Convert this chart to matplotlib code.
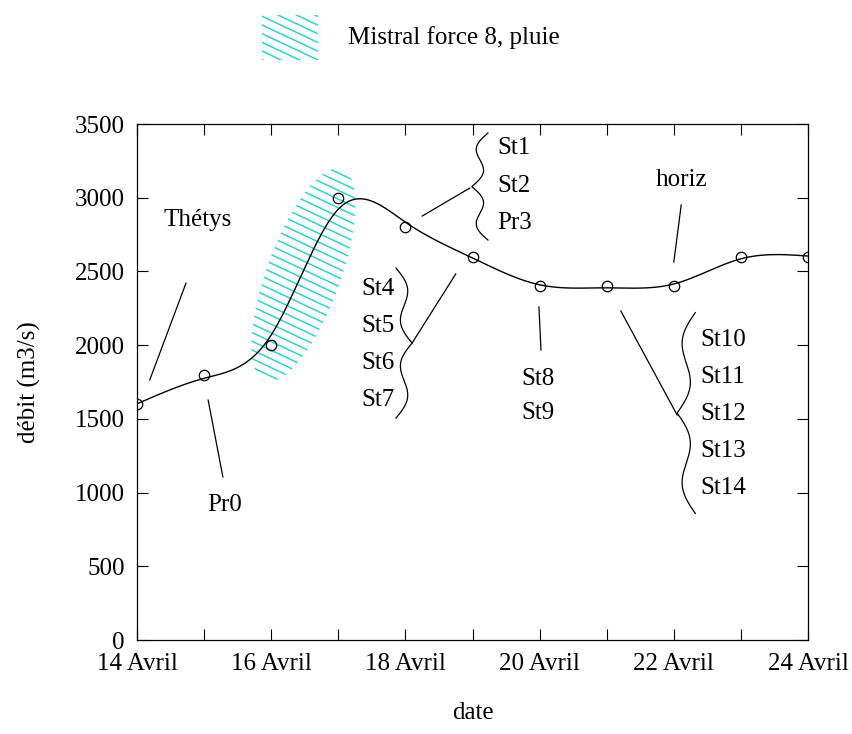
import numpy as np
import matplotlib.pyplot as plt
from matplotlib.patches import Ellipse, Rectangle
from matplotlib.lines import Line2D
from matplotlib.transforms import ScaledTranslation

plt.rcParams['font.family'] = ['Liberation Serif', 'DejaVu Serif']
plt.rcParams['font.size'] = 18

days = [14, 15, 16, 17, 18, 19, 20, 21, 22, 23, 24]
debit = [1600, 1800, 2000, 3000, 2800, 2600, 2400, 2400, 2400, 2600, 2600]
xtick_days = [14, 16, 18, 20, 22, 24]
xtick_labels = ['14 Avril', '16 Avril', '18 Avril', '20 Avril', '22 Avril', '24 Avril']
yticks = [0, 500, 1000, 1500, 2000, 2500, 3000, 3500]
hatch_color = '#33d0d0'


def smooth_curve(x, y, lam):
    # penalised least squares on a fine grid (smoothing-spline look)
    x = np.asarray(x, float)
    y = np.asarray(y, float)
    xs = np.linspace(x[0], x[-1], 1001)
    h = xs[1] - xs[0]
    n = len(xs)
    idx = np.rint((x - x[0]) / h).astype(int)
    A = np.zeros((n, n))
    A[idx, idx] = 1
    D = np.diff(np.eye(n), 2, axis=0) / h**2
    b = np.zeros(n)
    b[idx] = y
    f = np.linalg.solve(A + lam * h * D.T @ D, b)
    return xs, f


def brace(ax, x_end, x_tip, y_top, y_bot):
    s = np.linspace(0, 1, 120)
    g = s + 0.45 * np.sin(2 * np.pi * s)
    y_mid = (y_top + y_bot) / 2
    xu = x_end + (x_tip - x_end) * g
    yu = y_top + (y_mid - y_top) * s
    xl = xu[::-1]
    yl = y_mid + (y_bot - y_mid) * s
    ax.plot(np.r_[xu, xl], np.r_[yu, yl], color='black', lw=0.9)


def hatch_lines(artist_parent, clip, trans, xr, yr, spacing=0.087, slope=-0.47):
    xx = np.array(xr)
    for k in np.arange(yr[0], yr[1], spacing):
        ln = Line2D(xx, k + slope * xx, color=hatch_color, lw=1.1, transform=trans)
        ln.set_clip_path(clip)
        artist_parent(ln)


fig = plt.figure(figsize=(8.52, 7.34), dpi=100)
ax = fig.add_axes([0.1608, 0.128, 0.7876, 0.703])
ax.set_xlim(14, 24)
ax.set_ylim(0, 3500)

# hatched ellipse (Mistral)
etrans = fig.dpi_scale_trans + ScaledTranslation(16.48, 2476, ax.transData)
ell = Ellipse((0, 0), 2.26, 0.74, angle=70, transform=etrans, fill=False, edgecolor='none')
ax.add_patch(ell)
hatch_lines(ax.add_line, ell, etrans, (-1.5, 1.5), (-1.6, 1.6))

xs, ys = smooth_curve(days, debit, 0.015)
ax.plot(xs, ys, color='black', lw=1.0, zorder=3)
ax.plot(days, debit, 'o', mfc='none', mec='black', ms=7.5, mew=0.9, zorder=4)

ax.set_xticks(xtick_days)
ax.set_xticklabels(xtick_labels)
ax.set_xticks(days, minor=True)
ax.set_yticks(yticks)
ax.tick_params(which='both', direction='in', top=True, right=True, length=8, width=0.8)
ax.tick_params(axis='x', pad=9)
ax.tick_params(axis='y', pad=9)
for sp in ax.spines.values():
    sp.set_linewidth(0.9)

ax.set_xlabel('date', labelpad=20)
ax.set_ylabel('débit (m3/s)', labelpad=24)

kw = dict(color='black', lw=0.9)
# Thétys
ax.text(14.91, 2849, 'Thétys', ha='center', va='center')
ax.plot([14.73, 14.19], [2421, 1764], **kw)
# Pr0
ax.text(15.30, 916, 'Pr0', ha='center', va='center')
ax.plot([15.06, 15.28], [1628, 1106], **kw)
# St1 St2 Pr3
for lab, yy in zip(['St1', 'St2', 'Pr3'], [3337, 3079, 2828]):
    ax.text(19.37, yy, lab, ha='left', va='center')
brace(ax, 19.23, 18.99, 3439, 2713)
ax.plot([18.25, 18.96], [2876, 3066], **kw)
# St4 .. St7
for lab, yy in zip(['St4', 'St5', 'St6', 'St7'], [2381, 2130, 1879, 1628]):
    ax.text(17.84, yy, lab, ha='right', va='center')
brace(ax, 17.86, 18.10, 2523, 1506)
ax.plot([18.10, 18.75], [2015, 2483], **kw)
# St8 St9
ax.plot([19.99, 20.02], [2259, 1967], **kw)
for lab, yy in zip(['St8', 'St9'], [1770, 1540]):
    ax.text(19.98, yy, lab, ha='center', va='center')
# horiz
ax.text(22.12, 3120, 'horiz', ha='center', va='center')
ax.plot([22.11, 22.00], [2951, 2564], **kw)
# St10 .. St14
for lab, yy in zip(['St10', 'St11', 'St12', 'St13', 'St14'], [2035, 1784, 1533, 1282, 1031]):
    ax.text(22.39, yy, lab, ha='left', va='center')
brace(ax, 22.32, 22.05, 2221, 859)
ax.plot([21.21, 22.05], [2232, 1526], **kw)

# legend
rect = Rectangle((2.62, 6.74), 0.56, 0.45, transform=fig.dpi_scale_trans)
hatch_lines(fig.add_artist, rect, fig.dpi_scale_trans, (2.5, 3.3), (7.8, 8.8))
fig.text(3.48 / 8.52, 1 - 38 / 734, 'Mistral force 8, pluie', ha='left', va='center')

fig.savefig('out.png', dpi=100)
